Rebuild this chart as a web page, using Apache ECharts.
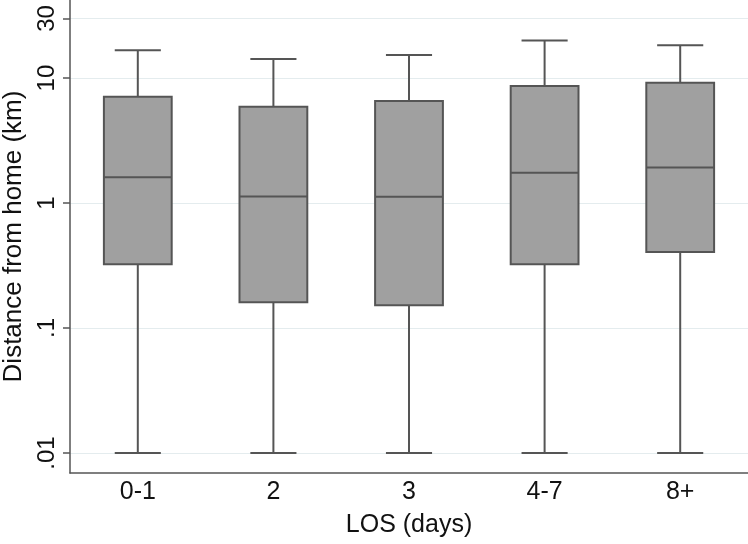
<!DOCTYPE html>
<html>
<head>
<meta charset="utf-8">
<script src="https://cdn.jsdelivr.net/npm/echarts@6/dist/echarts.min.js"></script>
<style>
html,body{margin:0;padding:0;background:#fff;}
#c{width:748px;height:544px;}
</style>
</head>
<body>
<div id="c"></div>
<script>
// ---- data ----
const categories = ['0-1', '2', '3', '4-7', '8+'];
const whiskerLow  = [0.01, 0.01, 0.01, 0.01, 0.01];
const q1Values    = [0.323, 0.161, 0.152, 0.323, 0.405];
const medians     = [1.61, 1.13, 1.12, 1.75, 1.92];
const q3Values    = [7.09, 5.9, 6.55, 8.63, 9.17];
const whiskerHigh = [16.7, 14.2, 15.3, 20.0, 18.3];
const yTickValues = [0.01, 0.1, 1, 10, 30];
const yTickLabels = ['.01', '.1', '1', '10', '30'];

const FONT = 'Liberation Sans, Arial, Helvetica, sans-serif';
const boxData = categories.map((c, i) => [i, whiskerLow[i], q1Values[i], medians[i], q3Values[i], whiskerHigh[i]]);

function fmtY(v) {
  let best = 0, bd = Infinity;
  yTickValues.forEach((t, i) => {
    const d = Math.abs(Math.log10(v) - Math.log10(t));
    if (d < bd) { bd = d; best = i; }
  });
  return bd < 1e-6 ? yTickLabels[best] : '';
}

const stroke = '#555555';
const fill = '#a0a0a0';

function renderItem(params, api) {
  const x = api.value(0);
  const pLow = api.coord([x, api.value(1)]);
  const pQ1 = api.coord([x, api.value(2)]);
  const pMed = api.coord([x, api.value(3)]);
  const pQ3 = api.coord([x, api.value(4)]);
  const pHigh = api.coord([x, api.value(5)]);
  const band = api.size([1, 0])[0];
  const bw = band * 0.5;
  const cw = band * 0.34;
  const cx = pMed[0];
  const ls = { stroke: stroke, lineWidth: 2 };
  return {
    type: 'group',
    children: [
      { type: 'line', shape: { x1: cx, y1: pHigh[1], x2: cx, y2: pQ3[1] }, style: ls },
      { type: 'line', shape: { x1: cx, y1: pQ1[1], x2: cx, y2: pLow[1] }, style: ls },
      { type: 'line', shape: { x1: cx - cw / 2, y1: pHigh[1], x2: cx + cw / 2, y2: pHigh[1] }, style: ls },
      { type: 'line', shape: { x1: cx - cw / 2, y1: pLow[1], x2: cx + cw / 2, y2: pLow[1] }, style: ls },
      { type: 'rect', shape: { x: cx - bw / 2, y: pQ3[1], width: bw, height: pQ1[1] - pQ3[1] },
        style: { fill: fill, stroke: stroke, lineWidth: 2 } },
      { type: 'line', shape: { x1: cx - bw / 2, y1: pMed[1], x2: cx + bw / 2, y2: pMed[1] }, style: ls }
    ]
  };
}

const chart = echarts.init(document.getElementById('c'), null, { renderer: 'canvas' });
chart.setOption({
  animation: false,
  backgroundColor: '#ffffff',
  grid: { left: 70, right: 0, top: 0, bottom: 71, containLabel: false, outerBoundsMode: 'none' },
  xAxis: {
    type: 'category',
    data: categories,
    name: 'LOS (days)',
    nameLocation: 'middle',
    nameGap: 40,
    nameTextStyle: { fontFamily: FONT, fontSize: 25, color: '#111' },
    axisLine: { lineStyle: { color: '#555', width: 1.5 } },
    axisTick: { show: false },
    axisLabel: { fontFamily: FONT, fontSize: 25, color: '#111', margin: 7 },
    splitLine: { show: false }
  },
  yAxis: {
    type: 'log',
    logBase: 10,
    min: 0.00692,
    max: 42.1,
    name: 'Distance from home (km)',
    nameLocation: 'middle',
    nameGap: 40,
    nameTextStyle: { fontFamily: FONT, fontSize: 26, color: '#111' },
    axisLine: { show: true, lineStyle: { color: '#555', width: 1.5 } },
    axisTick: { show: true, length: 7, lineStyle: { color: '#555', width: 1.5 }, customValues: yTickValues },
    axisLabel: { fontFamily: FONT, fontSize: 24, color: '#111', rotate: 90, margin: 11,
      customValues: yTickValues, formatter: fmtY },
    splitLine: { show: true, lineStyle: { color: '#e4ecee', width: 1 } },
    minorTick: { show: false },
    minorSplitLine: { show: false }
  },
  series: [{
    type: 'custom',
    renderItem: renderItem,
    data: boxData,
    encode: { x: 0, y: [1, 2, 3, 4, 5] },
    clip: false
  }]
});
</script>
</body>
</html>
